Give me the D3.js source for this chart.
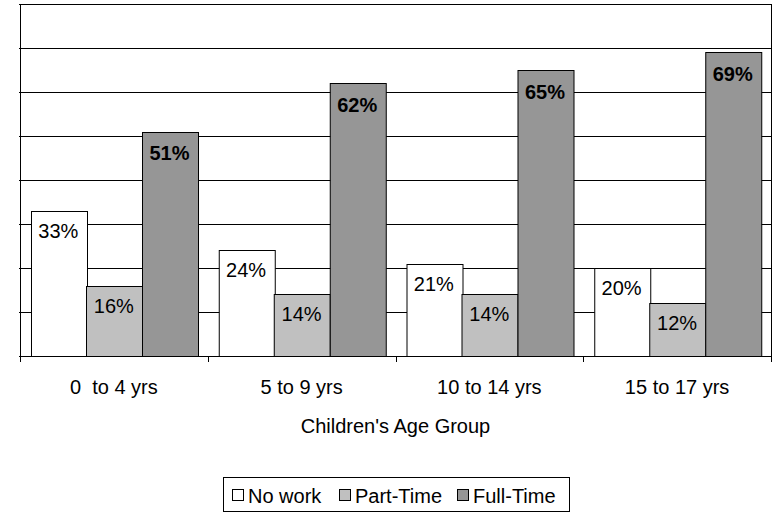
<!DOCTYPE html>
<html>
<head>
<meta charset="utf-8">
<script src="https://cdn.jsdelivr.net/npm/d3@7"></script>
<style>
  html, body { margin: 0; padding: 0; background: #fff; }
  svg { display: block; }
  text { font-family: Arial, "Liberation Sans", sans-serif; fill: #000; }
</style>
</head>
<body>
<svg id="chart" width="774" height="513"></svg>
<script>
// Share of children by mother's work status, per age group
const categories = ["0  to 4 yrs", "5 to 9 yrs", "10 to 14 yrs", "15 to 17 yrs"];
const seriesNames = ["No work", "Part-Time", "Full-Time"];
const noWork   = [33, 24, 21, 20];
const partTime = [16, 14, 14, 12];
const fullTime = [51, 62, 65, 69];
const yTicks = [0, 10, 20, 30, 40, 50, 60, 70, 80];
const seriesColors = ["#ffffff", "#c0c0c0", "#969696"];
const axisTitle = "Children's Age Group";

const values = [noWork, partTime, fullTime];

const svg = d3.select("#chart");
const plot = { left: 20, right: 771, top: 4, bottom: 356 };

const x = d3.scaleBand()
  .domain(categories)
  .range([plot.left, plot.right])
  .paddingInner(0)
  .paddingOuter(0);

const xs = d3.scaleBand()
  .domain(seriesNames)
  .range([0, x.bandwidth()])
  .paddingInner(0)
  .paddingOuter(0.189);

const y = d3.scaleLinear()
  .domain([0, 80])
  .range([plot.bottom, plot.top]);

// Gridlines
svg.append("g")
  .selectAll("line")
  .data(yTicks)
  .join("line")
  .attr("x1", plot.left - 1)
  .attr("x2", plot.right)
  .attr("y1", d => Math.round(y(d)) + 0.5)
  .attr("y2", d => Math.round(y(d)) + 0.5)
  .attr("stroke", "#000")
  .attr("stroke-width", 1);

// Plot frame (left axis line and right edge)
svg.append("line")
  .attr("x1", plot.left + 0.5).attr("x2", plot.left + 0.5)
  .attr("y1", plot.top).attr("y2", plot.bottom + 1)
  .attr("stroke", "#000");
svg.append("line")
  .attr("x1", plot.right + 0.5).attr("x2", plot.right + 0.5)
  .attr("y1", plot.top).attr("y2", plot.bottom + 1)
  .attr("stroke", "#000");

// Bars
const groups = svg.append("g")
  .selectAll("g")
  .data(categories)
  .join("g")
  .attr("transform", d => `translate(${x(d)},0)`);

seriesNames.forEach((s, si) => {
  groups.append("rect")
    .attr("x", (d, i) => Math.round(xs(s)) + 0.5)
    .attr("y", (d, i) => Math.round(y(values[si][i])) + 0.5)
    .attr("width", Math.round(xs.bandwidth()))
    .attr("height", (d, i) => Math.round(y(0)) - Math.round(y(values[si][i])))
    .attr("fill", seriesColors[si])
    .attr("stroke", "#000")
    .attr("stroke-width", 1);

  groups.append("text")
    .attr("x", xs(s) + xs.bandwidth() / 2)
    .attr("y", (d, i) => y(values[si][i]) + (si === 2 ? 28.5 : 27))
    .attr("text-anchor", "middle")
    .attr("font-size", 20)
    .attr("font-weight", si === 2 ? "bold" : "normal")
    .text((d, i) => values[si][i] + "%");
});

// X axis
const xAxis = svg.append("g");
xAxis.append("line")
  .attr("x1", plot.left).attr("x2", plot.right + 1)
  .attr("y1", plot.bottom + 0.5).attr("y2", plot.bottom + 0.5)
  .attr("stroke", "#000");
const boundaries = categories.map(c => x(c)).concat([plot.right]);
xAxis.selectAll("line.tick")
  .data(boundaries)
  .join("line")
  .attr("class", "tick")
  .attr("x1", d => Math.round(d) + 0.5)
  .attr("x2", d => Math.round(d) + 0.5)
  .attr("y1", plot.bottom)
  .attr("y2", plot.bottom + 6)
  .attr("stroke", "#000");
xAxis.selectAll("text")
  .data(categories)
  .join("text")
  .attr("x", d => x(d) + x.bandwidth() / 2)
  .attr("y", 394)
  .attr("text-anchor", "middle")
  .attr("font-size", 20)
  .style("white-space", "pre")
  .text(d => d);

svg.append("text")
  .attr("x", (plot.left + plot.right) / 2)
  .attr("y", 433)
  .attr("text-anchor", "middle")
  .attr("font-size", 20)
  .text(axisTitle);

// Legend
const legend = svg.append("g");
legend.append("rect")
  .attr("x", 223.5).attr("y", 477.5)
  .attr("width", 346).attr("height", 34)
  .attr("fill", "#fff")
  .attr("stroke", "#000");
const swatchX = [232, 339, 457];
seriesNames.forEach((s, i) => {
  legend.append("rect")
    .attr("x", swatchX[i] + 0.5).attr("y", 489.5)
    .attr("width", 11).attr("height", 11)
    .attr("fill", seriesColors[i])
    .attr("stroke", "#000");
  legend.append("text")
    .attr("x", swatchX[i] + 16)
    .attr("y", 503)
    .attr("font-size", 20)
    .text(s);
});
</script>
</body>
</html>
